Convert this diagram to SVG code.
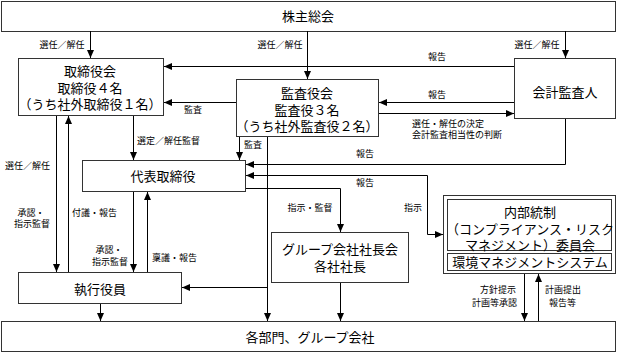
<svg xmlns="http://www.w3.org/2000/svg" width="620" height="353" viewBox="0 0 620 353">
<defs>
<marker id="a" viewBox="0 0 8 8" refX="8" refY="4" markerWidth="8" markerHeight="8" orient="auto-start-reverse" markerUnits="userSpaceOnUse"><path d="M0,0.5L8,4L0,7.5z" fill="#000"/></marker>
<style>
.box{fill:#fff;stroke:#333;stroke-width:1}
.t{font-family:"Liberation Sans","Noto Sans CJK JP",sans-serif;font-size:13px;fill:#000;text-anchor:middle}
.l{font-family:"Liberation Sans","Noto Sans CJK JP",sans-serif;font-size:9px;fill:#000}
.c{text-anchor:middle}
.e{text-anchor:end}
.ln{fill:none;stroke:#000;stroke-width:1}
.ar{marker-end:url(#a)}
</style>
</defs>
<rect width="620" height="353" fill="#fff"/>
<g id="shareholders"><rect class="box" x="1.5" y="1.5" width="614" height="30"/><text class="t" x="308" y="21">株主総会</text></g>
<g id="board"><rect class="box" x="18.5" y="58.5" width="145" height="57"/><text class="t" x="90" y="76">取締役会</text><text class="t" x="90" y="93">取締役４名</text><text class="t" x="90" y="109">（うち社外取締役１名）</text></g>
<g id="auditors"><rect class="box" x="236.5" y="79.5" width="142" height="57"/><text class="t" x="307" y="98">監査役会</text><text class="t" x="307" y="115">監査役３名</text><text class="t" x="307" y="131">（うち社外監査役２名）</text></g>
<g id="accountant"><rect class="box" x="514.5" y="58.5" width="101" height="60"/><text class="t" x="565" y="97">会計監査人</text></g>
<g id="ceo"><rect class="box" x="82.5" y="160.5" width="163" height="31"/><text class="t" x="163" y="181">代表取締役</text></g>
<g id="group"><rect class="box" x="271.5" y="232.5" width="137" height="50"/><text class="t" x="340" y="254">グループ会社社長会</text><text class="t" x="340" y="271">各社社長</text></g>
<g id="internal"><rect class="box" x="443.5" y="195.5" width="172" height="78"/><rect class="box" x="447.5" y="199.5" width="164" height="51"/><rect class="box" x="447.5" y="253.5" width="164" height="17"/><text class="t" x="530" y="217">内部統制</text><text class="t" x="530" y="234">（コンプライアンス・リスク</text><text class="t" x="530" y="250">マネジメント）委員会</text><text class="t" x="530" y="267">環境マネジメントシステム</text></g>
<g id="officers"><rect class="box" x="18.5" y="272.5" width="163" height="31"/><text class="t" x="100" y="294">執行役員</text></g>
<g id="divisions"><rect class="box" x="1.5" y="321.5" width="614" height="30"/><text class="t" x="310" y="342">各部門、グループ会社</text></g>
<g id="connectors">
<path class="ln ar" d="M90.5,31V58"/>
<path class="ln ar" d="M307.5,31V79"/>
<path class="ln ar" d="M565.5,31V58"/>
<path class="ln ar" d="M514,66.5H164"/>
<path class="ln ar" d="M514,102.5H379"/>
<path class="ln ar" d="M379,113.5H514"/>
<path class="ln ar" d="M236,102.5H164"/>
<path class="ln ar" d="M133.5,116V160"/>
<path class="ln ar" d="M239.5,137V160"/>
<path class="ln ar" d="M267.5,137V321"/>
<path class="ln ar" d="M267.5,287.5H182"/>
<path class="ln ar" d="M565.5,119V164.5H246"/>
<path class="ln" d="M246,175.5H427.5V234.5H443" marker-start="url(#a)" marker-end="url(#a)"/>
<path class="ln ar" d="M246,188.5H340.5V232"/>
<path class="ln ar" d="M340.5,283V321"/>
<path class="ln ar" d="M524.5,274V321"/>
<path class="ln ar" d="M538.5,321V274"/>
<path class="ln ar" d="M56.5,116V272"/>
<path class="ln ar" d="M68.5,272V116"/>
<path class="ln ar" d="M133.5,192V272"/>
<path class="ln ar" d="M147.5,272V192"/>
<path class="ln ar" d="M100.5,304V321"/>
<text class="l c" x="62" y="48">選任／解任</text>
<text class="l c" x="280" y="48">選任／解任</text>
<text class="l c" x="537" y="48">選任／解任</text>
<text class="l c" x="437" y="60">報告</text>
<text class="l c" x="437" y="98">報告</text>
<text class="l" x="412" y="127">選任・解任の決定</text>
<text class="l" x="412" y="138">会計監査相当性の判断</text>
<text class="l c" x="193" y="113">監査</text>
<text class="l" x="137" y="144">選定／解任監督</text>
<text class="l" x="244" y="148">監査</text>
<text class="l" x="5" y="169">選任／解任</text>
<text class="l c" x="365" y="157">報告</text>
<text class="l c" x="365" y="186">報告</text>
<text class="l c" x="310" y="211">指示・監督</text>
<text class="l c" x="413" y="211">指示</text>
<text class="l c" x="31" y="216">承認・</text>
<text class="l c" x="32" y="227">指示監督</text>
<text class="l" x="72" y="216">付議・報告</text>
<text class="l c" x="109" y="253">承認・</text>
<text class="l c" x="110" y="265">指示監督</text>
<text class="l" x="152" y="261">稟議・報告</text>
<text class="l e" x="516" y="293">方針提示</text>
<text class="l e" x="517" y="306">計画等承認</text>
<text class="l" x="545" y="293">計画提出</text>
<text class="l" x="549" y="306">報告等</text>
</g>
</svg>
